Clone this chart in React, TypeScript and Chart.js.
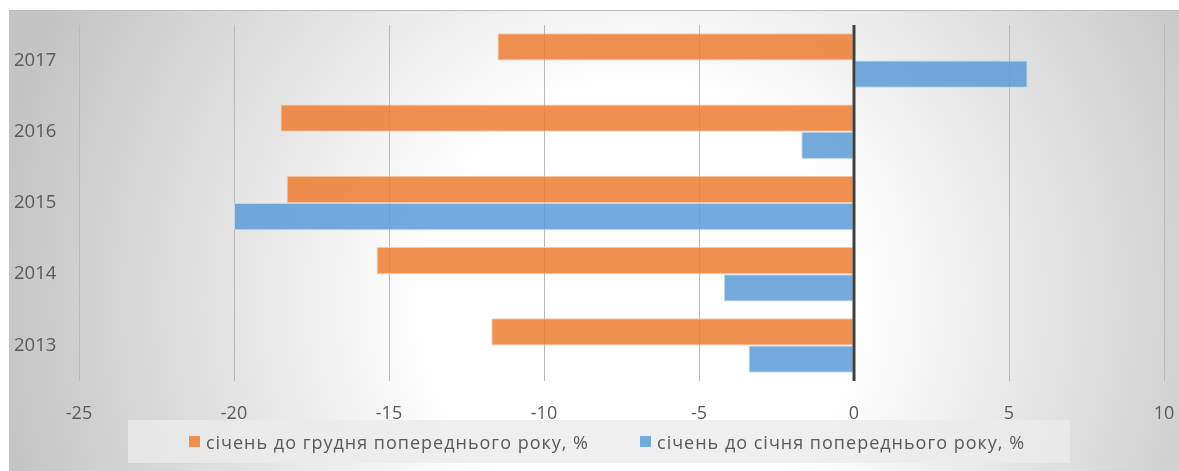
import React, { useEffect, useRef } from "react";
import { Chart, registerables } from "chart.js";

Chart.register(...registerables);

// Year categories, top to bottom
const years: string[] = ["2017", "2016", "2015", "2014", "2013"];

// January vs December of the previous year, %
const janToDec: number[] = [-11.5, -18.5, -18.3, -15.4, -11.7];

// January vs January of the previous year, %
const janToJan: number[] = [5.6, -1.7, -20.0, -4.2, -3.4];

const seriesLabels: string[] = [
  "січень до грудня попереднього року, %",
  "січень до січня попереднього року, %",
];

const xMin = -25;
const xMax = 10;
const xStep = 5;

const FONT = "'Open Sans', 'Noto Sans', sans-serif";
const TEXT = "#595959";

const fills = ["rgba(237,125,49,0.85)", "rgba(91,155,213,0.85)"];
const edges = ["rgba(248,196,160,0.9)", "rgba(190,215,240,0.9)"];
const swatches = ["#ef8f4f", "#74aadb"];

// Dark vertical line at the value 0, drawn over the bars
const zeroLine = {
  id: "zeroLine",
  afterDatasetsDraw(chart: any) {
    const { ctx, chartArea, scales } = chart;
    const x = scales.x.getPixelForValue(0);
    ctx.save();
    ctx.strokeStyle = "#404040";
    ctx.lineWidth = 3;
    ctx.beginPath();
    ctx.moveTo(x, chartArea.top);
    ctx.lineTo(x, chartArea.bottom);
    ctx.stroke();
    ctx.restore();
  },
};

export default function App() {
  const canvasRef = useRef<HTMLCanvasElement | null>(null);

  useEffect(() => {
    const canvas = canvasRef.current;
    if (!canvas) return;
    const chart = new Chart(canvas, {
      type: "bar",
      data: {
        labels: years,
        datasets: [janToDec, janToJan].map((values, i) => ({
          label: seriesLabels[i],
          data: values,
          backgroundColor: fills[i],
          borderColor: edges[i],
          borderWidth: 1,
          borderSkipped: false,
          categoryPercentage: 0.765,
          barPercentage: 1,
        })),
      },
      plugins: [zeroLine],
      options: {
        indexAxis: "y",
        animation: false,
        responsive: false,
        devicePixelRatio: 1,
        layout: { padding: { left: 5, top: 14, right: 15, bottom: 0 } },
        plugins: {
          legend: { display: false },
          tooltip: { enabled: false },
        },
        scales: {
          x: {
            min: xMin,
            max: xMax,
            ticks: {
              stepSize: xStep,
              color: TEXT,
              font: { family: FONT, size: 18 },
              padding: 22,
            },
            grid: { color: "#b8b8b8", lineWidth: 1, drawTicks: false },
            border: { display: false },
            afterFit(scale: any) {
              scale.height = 90;
              scale.paddingLeft = 0;
              scale.paddingRight = 0;
            },
          },
          y: {
            ticks: {
              color: TEXT,
              font: { family: FONT, size: 18.5 },
              crossAlign: "far",
              padding: 0,
            },
            grid: { display: false, drawTicks: false },
            border: { display: false },
            afterFit(scale: any) {
              scale.width = 65;
            },
          },
        },
      },
    });
    return () => chart.destroy();
  }, []);

  return (
    <div
      style={{
        position: "fixed",
        left: 9,
        top: 10,
        width: 1170,
        height: 461,
        boxSizing: "border-box",
        borderTop: "1px solid #bdbdbd",
        background:
          "radial-gradient(circle 650px at 631px 290px, #ffffff 0%, #ffffff 33%, #c4c4c4 100%)",
        fontFamily: FONT,
      }}
    >
      <canvas ref={canvasRef} width={1170} height={460} style={{ display: "block" }} />
      <div
        style={{
          position: "absolute",
          left: 119,
          top: 409,
          width: 942,
          height: 43,
          background: "rgba(235,235,235,0.8)",
          display: "flex",
          alignItems: "center",
          justifyContent: "center",
          gap: 51,
          paddingLeft: 16,
          boxSizing: "border-box",
        }}
      >
        {seriesLabels.map((label, i) => (
          <div key={label} style={{ display: "flex", alignItems: "center", gap: 6 }}>
            <span
              style={{
                display: "inline-block",
                width: 11,
                height: 11,
                background: swatches[i],
              }}
            />
            <span
              style={{
                color: TEXT,
                fontSize: 18,
                letterSpacing: 1,
                whiteSpace: "nowrap",
              }}
            >
              {label}
            </span>
          </div>
        ))}
      </div>
    </div>
  );
}
